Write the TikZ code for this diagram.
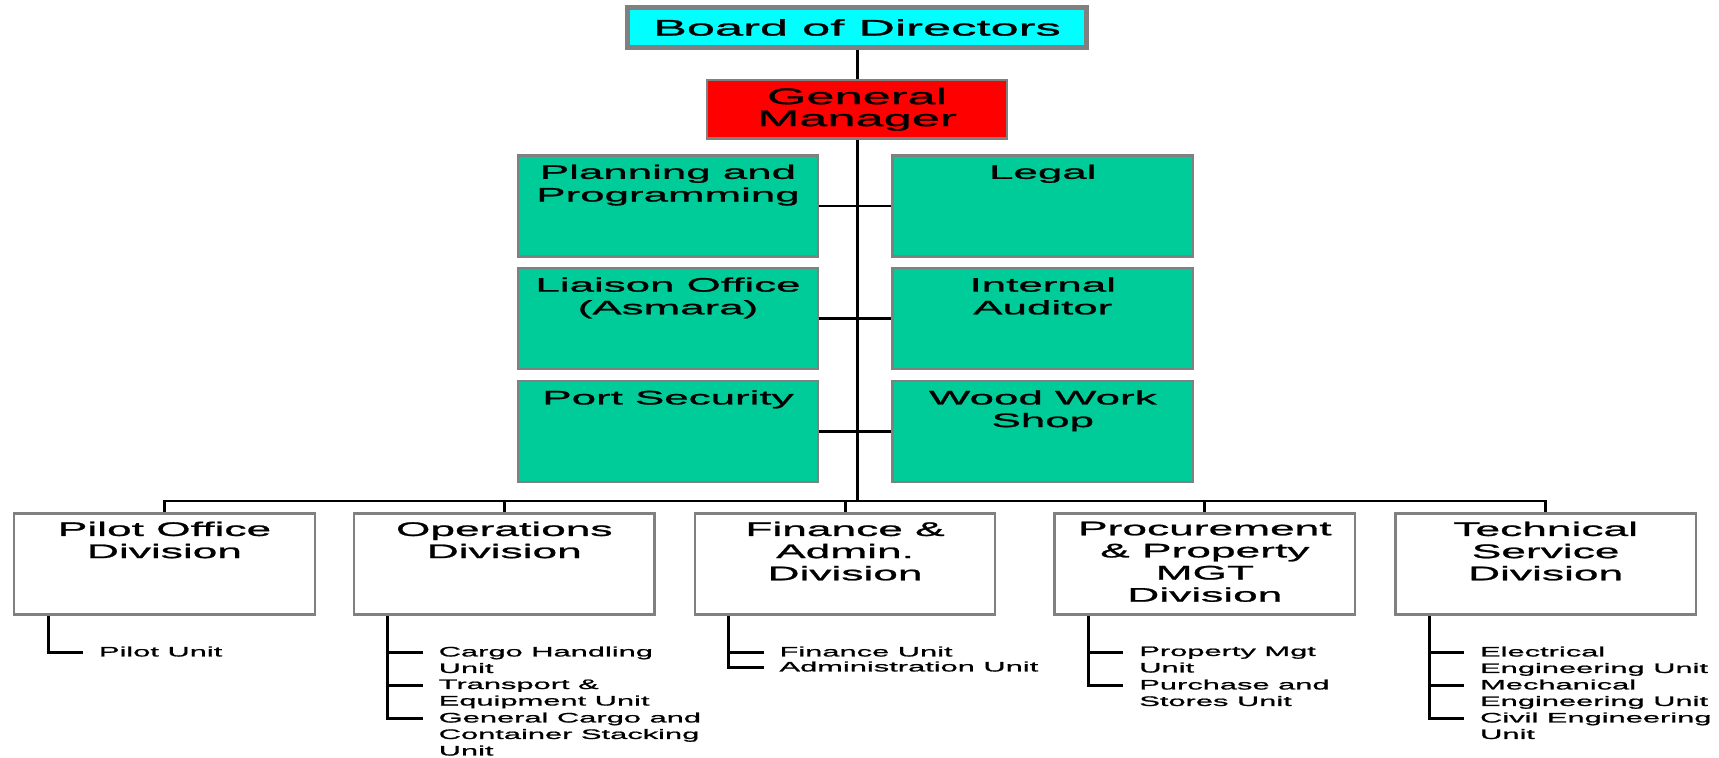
\documentclass[tikz,border=0pt]{standalone}
\usepackage{fontspec}
\usetikzlibrary{positioning}
\newfontfamily\widesans[FakeStretch=2.25, FakeBold=1.2]{Liberation Sans}
\definecolor{portGray}{RGB}{128,128,128}
\definecolor{portTeal}{RGB}{0,204,153}
\definecolor{portRed}{RGB}{255,0,0}
\definecolor{portCyan}{RGB}{0,255,255}

\begin{document}
\begin{tikzpicture}[
    box/.style={draw=portGray, line width=1.3pt, minimum width=6.01cm, minimum height=2.02cm, inner sep=0pt},
    toptext/.style={anchor=north, inner sep=0pt, align=center, yshift=-0.2cm, font=\widesans\fontsize{11.1}{12.9}\selectfont},
    divtext/.style={anchor=north, inner sep=0pt, align=center, yshift=-0.18cm, font=\widesans\fontsize{11.2}{12.6}\selectfont},
    staff/.style={box, fill=portTeal, label={[toptext]north:#1}},
    division/.style={box, fill=white, label={[divtext]north:#1}},
    unit/.style={anchor=north west, inner sep=0pt, align=left, font=\widesans\fontsize{7.8}{9.4}\selectfont},
    link/.style={line width=1.7pt, black}
  ]
  \useasboundingbox (0,0) rectangle (34.38,-15.16);

  \node[draw=portGray, line width=3pt, fill=portCyan, minimum width=9.17cm, minimum height=0.79cm, font=\widesans\fontsize{12.8}{14}\selectfont] (board) at (17.14,-0.55) {Board of Directors};
  \node[box, fill=portRed, minimum width=6.01cm, minimum height=1.17cm, align=center, font=\widesans\fontsize{12.8}{12.5}\selectfont, below=0.58cm of board] (gm) {General\\Manager};

  % staff offices beside the main line
  \node[staff={Planning and\\Programming}] (plan) at (13.36,-4.12) {};
  \node[staff=Legal, right=1.44cm of plan] (legal) {};
  \node[staff={Liaison Office\\(Asmara)}, below=0.19cm of plan] (liaison) {};
  \node[staff={Internal\\Auditor}, right=1.44cm of liaison] (audit) {};
  \node[staff={Port Security}, below=0.19cm of liaison] (security) {};
  \node[staff={Wood Work\\Shop}, right=1.44cm of security] (wood) {};

  % divisions
  \node[division={Pilot Office\\Division}] (pilot) at (3.29,-11.28) {};
  \node[division={Operations\\Division}, right=0.74cm of pilot] (ops) {};
  \node[division={Finance \&\\Admin.\\Division}, right=0.76cm of ops] (fin) {};
  \node[division={Procurement\\\& Property\\MGT\\Division}, right=1.14cm of fin] (proc) {};
  \node[division={Technical\\Service\\Division}, right=0.76cm of proc] (tech) {};

  \coordinate (bus) at (17.13,-10.02);
  \draw[link] (board) -- (gm);
  \draw[link] (gm.south) -- (gm.south |- bus);
  \draw[link] (plan.east) -- (legal.west);
  \draw[link] (liaison.east) -- (audit.west);
  \draw[link] (security.east) -- (wood.west);
  \draw[link] (pilot.north) |- (bus) -| (tech.north);
  \draw[link] (ops.north) -- (ops.north |- bus);
  \draw[link] (fin.north) -- (fin.north |- bus);
  \draw[link] (proc.north) -- (proc.north |- bus);

  % units under each division
  \coordinate (pilotStem) at ([xshift=0.7cm]pilot.south west);
  \coordinate (pilot1) at ([xshift=1.4cm, yshift=-0.73cm]pilot.south west);
  \node[unit, xshift=0.31cm, yshift=0.12cm] (pilotA) at (pilot1) {Pilot Unit};
  \draw[link] (pilotStem) |- (pilot1);

  \coordinate (opsStem) at ([xshift=0.7cm]ops.south west);
  \coordinate (ops1) at ([xshift=1.4cm, yshift=-0.73cm]ops.south west);
  \coordinate (ops2) at ([yshift=-0.66cm]ops1);
  \coordinate (ops3) at ([yshift=-1.32cm]ops1);
  \node[unit, xshift=0.31cm, yshift=0.12cm] (opsA) at (ops1) {Cargo Handling\\Unit};
  \node[unit, xshift=0.31cm, yshift=0.12cm] (opsB) at (ops2) {Transport \&\\Equipment Unit};
  \node[unit, xshift=0.31cm, yshift=0.12cm] (opsC) at (ops3) {General Cargo and\\Container Stacking\\Unit};
  \draw[link] (opsStem) |- (ops3);
  \draw[link] (opsStem |- ops1) -- (ops1);
  \draw[link] (opsStem |- ops2) -- (ops2);

  \coordinate (finStem) at ([xshift=0.7cm]fin.south west);
  \coordinate (fin1) at ([xshift=1.4cm, yshift=-0.73cm]fin.south west);
  \coordinate (fin2) at ([yshift=-0.3cm]fin1);
  \node[unit, xshift=0.31cm, yshift=0.12cm] (finA) at (fin1) {Finance Unit};
  \node[unit, xshift=0.31cm, yshift=0.12cm] (finB) at (fin2) {Administration Unit};
  \draw[link] (finStem) |- (fin2);
  \draw[link] (finStem |- fin1) -- (fin1);

  \coordinate (procStem) at ([xshift=0.7cm]proc.south west);
  \coordinate (proc1) at ([xshift=1.4cm, yshift=-0.73cm]proc.south west);
  \coordinate (proc2) at ([yshift=-0.66cm]proc1);
  \node[unit, xshift=0.31cm, yshift=0.12cm] (procA) at (proc1) {Property Mgt\\Unit};
  \node[unit, xshift=0.31cm, yshift=0.12cm] (procB) at (proc2) {Purchase and\\Stores Unit};
  \draw[link] (procStem) |- (proc2);
  \draw[link] (procStem |- proc1) -- (proc1);

  \coordinate (techStem) at ([xshift=0.7cm]tech.south west);
  \coordinate (tech1) at ([xshift=1.4cm, yshift=-0.73cm]tech.south west);
  \coordinate (tech2) at ([yshift=-0.66cm]tech1);
  \coordinate (tech3) at ([yshift=-1.32cm]tech1);
  \node[unit, xshift=0.31cm, yshift=0.12cm] (techA) at (tech1) {Electrical\\Engineering Unit};
  \node[unit, xshift=0.31cm, yshift=0.12cm] (techB) at (tech2) {Mechanical\\Engineering Unit};
  \node[unit, xshift=0.31cm, yshift=0.12cm] (techC) at (tech3) {Civil Engineering\\Unit};
  \draw[link] (techStem) |- (tech3);
  \draw[link] (techStem |- tech1) -- (tech1);
  \draw[link] (techStem |- tech2) -- (tech2);
\end{tikzpicture}
\end{document}
